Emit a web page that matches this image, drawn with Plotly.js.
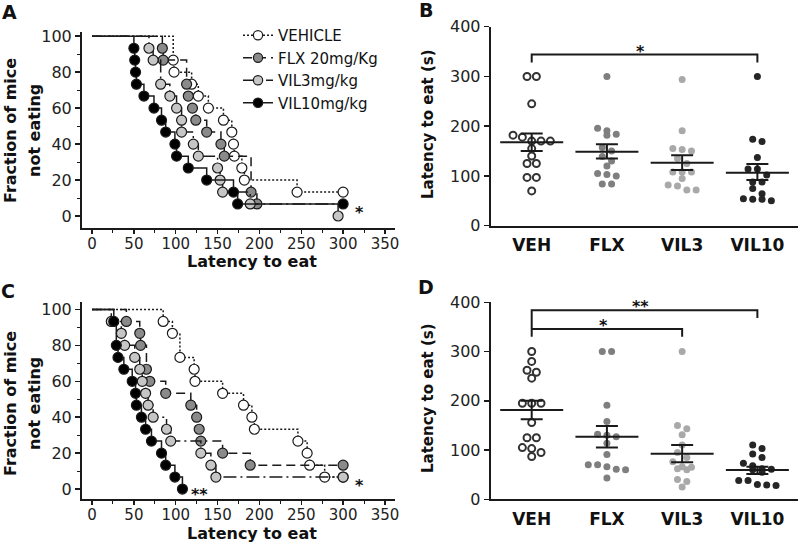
<!DOCTYPE html>
<html><head><meta charset="utf-8">
<script src="https://cdn.plot.ly/plotly-3.0.1.min.js"></script>
<style>html,body{margin:0;padding:0;background:#fff}#chart{width:800px;height:546px}</style>
</head><body><div id="chart"></div>
<script>
// ---------- Kaplan-Meier data (latency s, % not eating) ----------
const kmNames = ['VEHICLE', 'FLX 20mg/Kg', 'VIL3mg/kg', 'VIL10mg/kg'];
// Panel A
const vehA_t  = [97, 98, 119, 127, 139, 157, 167, 169, 170, 179, 182, 245, 300];
const vehA_s  = [86.7, 80, 73.3, 66.7, 60, 53.3, 46.7, 40, 33.3, 26.7, 20, 13.3, 13.3];
const flxA_t  = [84, 85, 113, 115, 120, 124, 137, 154, 158, 190, 197];
const flxA_s  = [93.3, 86.7, 73.3, 66.7, 60, 53.3, 46.7, 40, 33.3, 13.3, 6.7];
const vil3A_t = [68, 73, 82, 93, 101, 107, 107, 121, 127, 150, 153, 156, 189, 294];
const vil3A_s = [93.3, 86.7, 73.3, 66.7, 60, 53.3, 46.7, 40, 33.3, 26.7, 20, 13.3, 6.7, 0];
const vil10A_t = [50, 51, 52, 53, 62, 74, 83, 88, 99, 101, 115, 137, 169, 174, 300];
const vil10A_s = [93.3, 86.7, 80, 73.3, 66.7, 60, 53.3, 46.7, 40, 33.3, 26.7, 20, 13.3, 6.7, 6.7];
// Panel C
const vehC_t  = [85, 96, 105, 122, 123, 156, 181, 191, 194, 246, 257, 260, 278, 300];
const vehC_s  = [93.3, 86.7, 73.3, 66.7, 60, 53.3, 46.7, 40, 33.3, 26.7, 20, 13.3, 6.7, 6.7];
const flxC_t  = [41, 57, 58, 65, 69, 88, 118, 125, 128, 130, 156, 189, 300];
const flxC_s  = [93.3, 86.7, 80, 66.7, 60, 53.3, 46.7, 40, 33.3, 26.7, 20, 13.3, 13.3];
const vil3C_t = [23, 35, 39, 51, 57, 60, 64, 67, 73, 89, 94, 130, 142, 148, 300];
const vil3C_s = [93.3, 86.7, 80, 73.3, 66.7, 60, 53.3, 46.7, 40, 33.3, 26.7, 20, 13.3, 6.7, 6.7];
const vil10C_t = [26, 29, 31, 38, 48, 52, 53, 59, 64, 71, 83, 88, 99, 108];
const vil10C_s = [93.3, 80, 73.3, 66.7, 60, 53.3, 46.7, 40, 33.3, 26.7, 20, 13.3, 6.7, 0];

// ---------- Dot plot data (latency to eat, s) ----------
const categories = ['VEH', 'FLX', 'VIL3', 'VIL10'];
const vehB   = [300, 300, 245, 182, 178, 170, 170, 170, 155, 140, 125, 125, 97, 97, 70];
const flxB   = [300, 196, 191, 184, 182, 157, 150, 139, 130, 120, 105, 103, 100, 84, 84];
const vil3B  = [294, 191, 155, 153, 150, 135, 125, 108, 108, 108, 95, 82, 80, 72, 72];
const vil10B = [300, 174, 169, 137, 114, 114, 102, 88, 88, 75, 64, 53, 50, 53, 54];
const meanB  = [167.5, 148.5, 126.5, 106.5];
const semHiB = [185.5, 163.5, 141.5, 124];
const semLoB = [150, 135, 112, 92];

const vehD   = [300, 280, 262, 258, 246, 195, 195, 195, 156, 125, 125, 105, 103, 95, 87];
const flxD   = [300, 300, 191, 158, 132, 130, 127, 114, 91, 70, 70, 66, 61, 60, 43];
const vil3D  = [300, 150, 143, 131, 110, 95, 85, 76, 66, 65, 62, 60, 40, 36, 25];
const vil10D = [110, 103, 92, 85, 73, 68, 62, 61, 60, 55, 38, 38, 30, 29, 28];
const meanD  = [181.4, 127, 92.7, 59.6];
const semHiD = [200, 149, 110, 66.3];
const semLoD = [162.4, 105, 75, 51.4];

// significance brackets: [fromIndex, toIndex, height, label]
const sigB = [[0, 3, 344, '*']];
const sigD = [[0, 3, 384, '**'], [0, 2, 346, '*']];

// ---------- styling ----------
const FONT = 'DejaVu Sans';
const INK = '#1a1a1a';
const kmStyles = [
  {dash: '2px,2px', fill: '#ffffff'},
  {dash: '9px,5px', fill: '#8a8a8a'},
  {dash: '13px,4px,2px,4px', fill: '#c6c6c6'},
  {dash: 'solid', fill: '#000000'}
];
const dotStyles = [
  {color: '#ffffff', line: '#333333', lw: 2, size: 7},
  {color: '#7f7f7f', line: '#7f7f7f', lw: 0, size: 7},
  {color: '#a9a9a9', line: '#a9a9a9', lw: 0, size: 7},
  {color: '#262626', line: '#262626', lw: 0, size: 7}
];

function kmTrace(t, s, k, xa, ya, showlegend) {
  const x = [0].concat(t), y = [100].concat(s);
  return {
    type: 'scatter', mode: 'lines+markers', x: x, y: y, xaxis: xa, yaxis: ya,
    name: kmNames[k], showlegend: showlegend, legendgroup: 'g' + k, hoverinfo: 'skip',
    line: {shape: 'hv', dash: kmStyles[k].dash, color: INK, width: 1.5},
    marker: {size: x.map((_, i) => i === 0 ? 0 : 10), opacity: 1, color: kmStyles[k].fill,
             line: {color: INK, width: 1.2}}
  };
}

function swarm(vals, tol, step) {
  const idx = vals.map((v, i) => i).sort((a, b) => vals[b] - vals[a]);
  const off = new Array(vals.length).fill(0);
  let i = 0;
  while (i < idx.length) {
    let j = i;
    while (j + 1 < idx.length && vals[idx[i]] - vals[idx[j + 1]] < tol) j++;
    const n = j - i + 1;
    for (let k = 0; k < n; k++) off[idx[i + k]] = (k - (n - 1) / 2) * step;
    i = j + 1;
  }
  return off;
}

function dotTraces(groups, means, hi, lo, xa, ya) {
  const out = [];
  groups.forEach((vals, g) => {
    const off = swarm(vals, 13, 0.124);
    const st = dotStyles[g];
    out.push({type: 'scatter', mode: 'markers', xaxis: xa, yaxis: ya, showlegend: false,
      hoverinfo: 'skip', x: vals.map((v, i) => g + off[i]), y: vals,
      marker: {size: st.size, opacity: 1, color: st.color, line: {color: st.line, width: st.lw}}});
  });
  out.push({type: 'scatter', mode: 'markers', xaxis: xa, yaxis: ya, showlegend: false,
    hoverinfo: 'skip', x: categories.map((c, i) => i), y: means,
    marker: {symbol: 'line-ew-open', size: 45, color: INK, opacity: 1, line: {color: INK, width: 2}},
    error_y: {type: 'data', symmetric: false,
      array: hi.map((h, i) => h - means[i]), arrayminus: lo.map((l, i) => means[i] - l),
      width: 11, thickness: 2, color: INK}});
  return out;
}

const traces = [
  kmTrace(vehA_t, vehA_s, 0, 'x', 'y', true),
  kmTrace(flxA_t, flxA_s, 1, 'x', 'y', true),
  kmTrace(vil3A_t, vil3A_s, 2, 'x', 'y', true),
  kmTrace(vil10A_t, vil10A_s, 3, 'x', 'y', true),
  kmTrace(vehC_t, vehC_s, 0, 'x3', 'y3', false),
  kmTrace(flxC_t, flxC_s, 1, 'x3', 'y3', false),
  kmTrace(vil3C_t, vil3C_s, 2, 'x3', 'y3', false),
  kmTrace(vil10C_t, vil10C_s, 3, 'x3', 'y3', false)
].concat(
  dotTraces([vehB, flxB, vil3B, vil10B], meanB, semHiB, semLoB, 'x2', 'y2'),
  dotTraces([vehD, flxD, vil3D, vil10D], meanD, semHiD, semLoD, 'x4', 'y4')
);

// ---------- axes ----------
const W = 800, H = 546;
const px = v => v / W, py = v => 1 - v / H;
const yTickFont = {family: FONT, size: 16, color: '#222'};
const xTickFont = {family: FONT, size: 15, color: '#222'};
function kmX(anchor) {
  return {domain: [px(82), px(395)], range: [-12, 362], anchor: anchor,
    showline: true, linewidth: 2, linecolor: INK, ticks: 'outside', ticklen: 4, tickwidth: 1.5,
    tickcolor: INK, tick0: 0, dtick: 50, showgrid: false, zeroline: false, tickfont: xTickFont,
    ticklabelstandoff: -3,
    minor: {dtick: 25, ticks: 'outside', ticklen: 3, tickwidth: 1, tickcolor: INK, showgrid: false},
    fixedrange: true};
}
function kmY(top, bottom, range, anchor) {
  return {domain: [py(bottom), py(top)], range: range, anchor: anchor,
    showline: true, linewidth: 2, linecolor: INK, ticks: 'outside', ticklen: 5, tickwidth: 1.5,
    tickcolor: INK, tick0: 0, dtick: 20, showgrid: false, zeroline: false, tickfont: yTickFont,
    minor: {dtick: 10, ticks: 'outside', ticklen: 3, tickwidth: 1, tickcolor: INK, showgrid: false},
    fixedrange: true};
}
function dotX(anchor) {
  return {domain: [px(490.7), px(798)], range: [-0.545, 3.54], anchor: anchor,
    showline: true, linewidth: 2, linecolor: INK, tickvals: categories.map((c, i) => i),
    ticktext: categories, ticks: 'outside', ticklen: 3, tickcolor: 'rgba(0,0,0,0)',
    showgrid: false, zeroline: false,
    tickfont: {family: FONT, size: 17, color: '#111', weight: 'bold'}, fixedrange: true};
}
function dotY(top, bottom, anchor) {
  return {domain: [py(bottom), py(top)], range: [0, 400], anchor: anchor,
    showline: true, linewidth: 2, linecolor: INK, ticks: 'outside', ticklen: 5, tickwidth: 1.5,
    tickcolor: INK, dtick: 100, showgrid: false, zeroline: false, tickfont: yTickFont,
    fixedrange: true};
}

// ---------- annotations & shapes ----------
const ann = [];
const bold = (s) => ({family: FONT, size: s, color: '#111', weight: 'bold'});
function paperText(text, x, y, font, angle) {
  ann.push({text: text, xref: 'paper', yref: 'paper', x: px(x), y: py(y),
    xanchor: 'center', yanchor: 'middle', showarrow: false, font: font, textangle: angle || 0});
}
paperText('A', 9, 12, bold(19));
paperText('B', 426, 10, bold(19));
paperText('C', 8, 291, bold(19));
paperText('D', 426, 287, bold(19));
paperText('Fraction of mice', 10, 131, bold(16), -90);
paperText('not eating', 34, 131, bold(16), -90);
paperText('Fraction of mice', 10, 404, bold(16), -90);
paperText('not eating', 34, 404, bold(16), -90);
paperText('Latency to eat', 252, 261, bold(16));
paperText('Latency to eat', 252, 533, bold(16));
paperText('Latency to eat (s)', 428, 124, bold(15), -90);
paperText('Latency to eat (s)', 428, 398, bold(15), -90);

function dataText(text, x, y, xr, yr) {
  ann.push({text: text, xref: xr, yref: yr, x: x, y: y, xanchor: 'center', yanchor: 'middle',
    showarrow: false, font: {family: FONT, size: 16, color: '#111', weight: 'bold'}});
}
dataText('*', 320, 2, 'x', 'y');
dataText('*', 320, 2, 'x3', 'y3');
dataText('**', 128, -3, 'x3', 'y3');

const shapes = [];
function brackets(list, xr, yr, drop) {
  list.forEach(([a, b, h, label], k) => {
    const leftDrop = Math.min(...list.map(l => l[2])) - drop;
    shapes.push({type: 'path', xref: xr, yref: yr,
      path: `M ${a},${k === 0 ? leftDrop : h} L ${a},${h} L ${b},${h} L ${b},${h - drop}`,
      line: {color: INK, width: 2}});
    ann.push({text: label, xref: xr, yref: yr, x: (a + b) / 2 - 0.05, y: h + 7,
      xanchor: 'center', yanchor: 'middle', showarrow: false,
      font: {family: FONT, size: 16, color: '#111', weight: 'bold'}});
  });
}
brackets(sigB, 'x2', 'y2', 16);
brackets(sigD, 'x4', 'y4', 16);

const layout = {
  width: W, height: H, margin: {l: 0, r: 0, t: 0, b: 0},
  paper_bgcolor: '#fff', plot_bgcolor: 'rgba(0,0,0,0)', showlegend: true,
  font: {family: FONT, color: '#111'},
  xaxis: kmX('y'), yaxis: kmY(31.7, 227.7, [-6.5, 102.5], 'x'),
  xaxis3: kmX('y3'), yaxis3: kmY(301.7, 499.3, [-5.7, 104.3], 'x3'),
  xaxis2: dotX('y2'), yaxis2: dotY(26.7, 225.7, 'x2'),
  xaxis4: dotX('y4'), yaxis4: dotY(302.3, 499.3, 'x4'),
  legend: {x: px(238), y: py(19), xanchor: 'left', yanchor: 'top', bgcolor: 'rgba(0,0,0,0)',
    font: {family: FONT, size: 15, color: '#111'}, tracegroupgap: 0, itemwidth: 30},
  annotations: ann, shapes: shapes
};

Plotly.newPlot('chart', traces, layout, {staticPlot: true, displayModeBar: false});
</script></body></html>
